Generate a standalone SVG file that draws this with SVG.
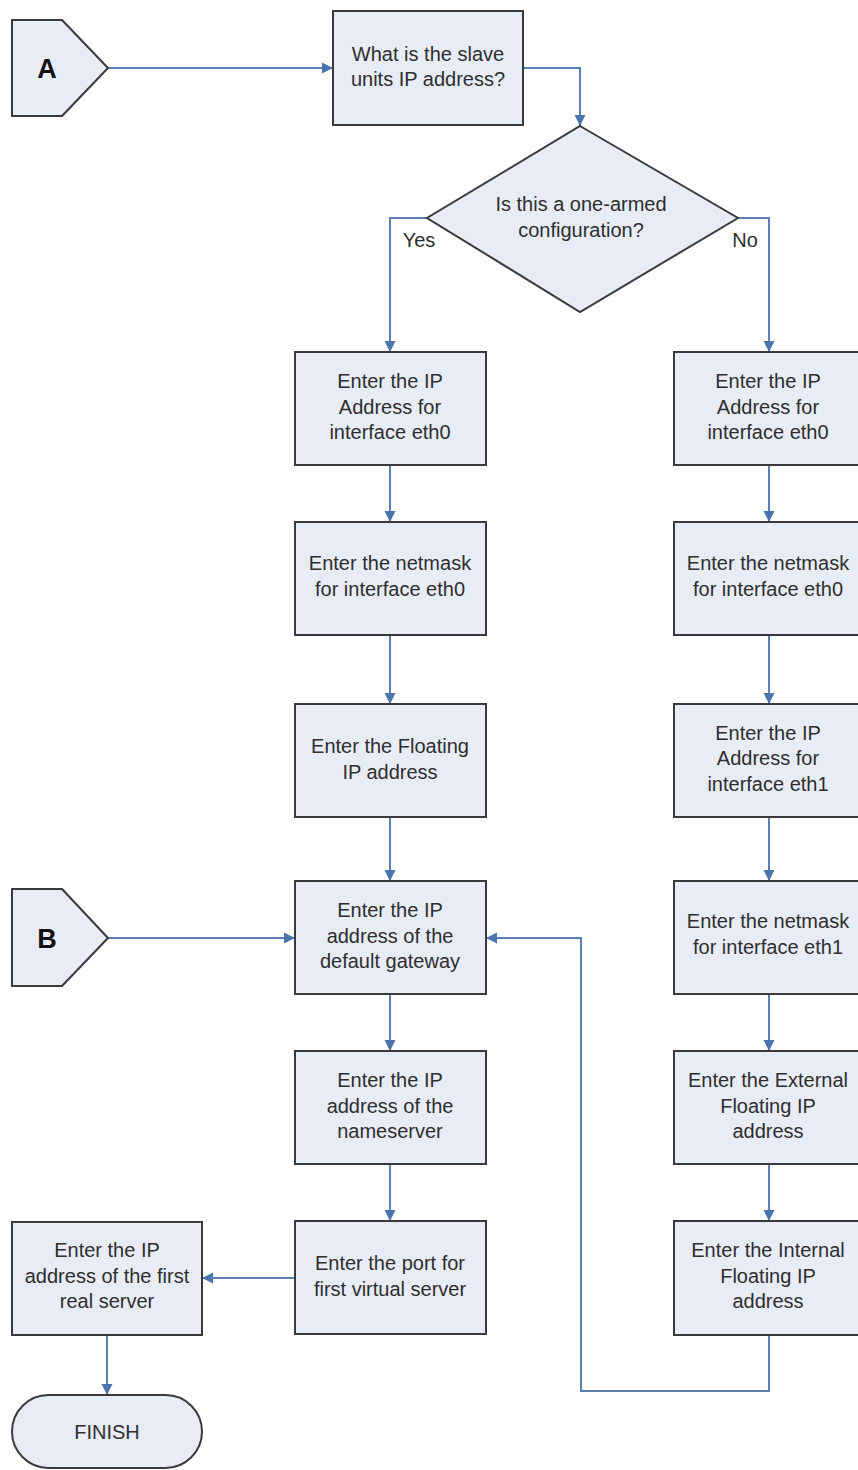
<svg xmlns="http://www.w3.org/2000/svg" width="858" height="1470" viewBox="0 0 858 1470">
<defs>
<marker id="arr" markerUnits="userSpaceOnUse" markerWidth="12" markerHeight="12" viewBox="0 0 12 12" refX="11" refY="6" orient="auto">
<path d="M0,0.5 L11,6 L0,11.5 Z" fill="#4a74ad"/>
</marker>
<style>
.box{fill:#e8ecf7;stroke:#3a3a3a;stroke-width:2}
.t{font-family:"Liberation Sans",Arial,sans-serif;font-size:20px;fill:#2e2e2e;text-anchor:middle}
.big{font-family:"Liberation Sans",Arial,sans-serif;font-size:27px;font-weight:bold;fill:#111;text-anchor:middle}
.c{fill:none;stroke:#5b80b6;stroke-width:2}
</style>
</defs>
<rect width="858" height="1470" fill="#ffffff"/>

<g id="connectors">
<path class="c" d="M108,68 H333" marker-end="url(#arr)"/>
<path class="c" d="M523,68 H580 V126" marker-end="url(#arr)"/>
<path class="c" d="M427,218 H390 V352" marker-end="url(#arr)"/>
<path class="c" d="M738,218 H769 V352" marker-end="url(#arr)"/>
<path class="c" d="M390,465 V522" marker-end="url(#arr)"/>
<path class="c" d="M390,635 V704" marker-end="url(#arr)"/>
<path class="c" d="M390,817 V881" marker-end="url(#arr)"/>
<path class="c" d="M390,994 V1051" marker-end="url(#arr)"/>
<path class="c" d="M390,1164 V1221" marker-end="url(#arr)"/>
<path class="c" d="M769,465 V522" marker-end="url(#arr)"/>
<path class="c" d="M769,635 V704" marker-end="url(#arr)"/>
<path class="c" d="M769,817 V881" marker-end="url(#arr)"/>
<path class="c" d="M769,994 V1051" marker-end="url(#arr)"/>
<path class="c" d="M769,1164 V1221" marker-end="url(#arr)"/>
<path class="c" d="M769,1335 V1391 H581 V938 H486" marker-end="url(#arr)"/>
<path class="c" d="M108,938 H295" marker-end="url(#arr)"/>
<path class="c" d="M295,1278 H202" marker-end="url(#arr)"/>
<path class="c" d="M107,1335 V1395" marker-end="url(#arr)"/>
<text class="t" x="419" y="247">Yes</text>
<text class="t" x="745" y="247">No</text>
</g>

<g id="A">
<path class="box" d="M12,20 H62 L108,68 L62,116 H12 Z" stroke-linejoin="round"/>
<text class="big" x="47" y="78">A</text>
</g>

<g id="q1">
<rect class="box" x="333" y="11" width="190" height="114"/>
<text class="t" x="428" y="61">What is the slave</text>
<text class="t" x="428" y="86">units IP address?</text>
</g>

<g id="decision">
<path class="box" d="M580,126 L738,218 L580,312 L427,218 Z"/>
<text class="t" x="581" y="211">Is this a one-armed</text>
<text class="t" x="581" y="237">configuration?</text>
</g>

<g id="L1">
<rect class="box" x="295" y="352" width="191" height="113"/>
<text class="t" x="390" y="388">Enter the IP</text>
<text class="t" x="390" y="414">Address for</text>
<text class="t" x="390" y="439">interface eth0</text>
</g>
<g id="L2">
<rect class="box" x="295" y="522" width="191" height="113"/>
<text class="t" x="390" y="570">Enter the netmask</text>
<text class="t" x="390" y="596">for interface eth0</text>
</g>
<g id="L3">
<rect class="box" x="295" y="704" width="191" height="113"/>
<text class="t" x="390" y="753">Enter the Floating</text>
<text class="t" x="390" y="779">IP address</text>
</g>
<g id="L4">
<rect class="box" x="295" y="881" width="191" height="113"/>
<text class="t" x="390" y="917">Enter the IP</text>
<text class="t" x="390" y="943">address of the</text>
<text class="t" x="390" y="968">default gateway</text>
</g>
<g id="L5">
<rect class="box" x="295" y="1051" width="191" height="113"/>
<text class="t" x="390" y="1087">Enter the IP</text>
<text class="t" x="390" y="1113">address of the</text>
<text class="t" x="390" y="1138">nameserver</text>
</g>
<g id="L6">
<rect class="box" x="295" y="1221" width="191" height="113"/>
<text class="t" x="390" y="1270">Enter the port for</text>
<text class="t" x="390" y="1296">first virtual server</text>
</g>

<g id="R1">
<rect class="box" x="674" y="352" width="190" height="113"/>
<text class="t" x="768" y="388">Enter the IP</text>
<text class="t" x="768" y="414">Address for</text>
<text class="t" x="768" y="439">interface eth0</text>
</g>
<g id="R2">
<rect class="box" x="674" y="522" width="190" height="113"/>
<text class="t" x="768" y="570">Enter the netmask</text>
<text class="t" x="768" y="596">for interface eth0</text>
</g>
<g id="R3">
<rect class="box" x="674" y="704" width="190" height="113"/>
<text class="t" x="768" y="740">Enter the IP</text>
<text class="t" x="768" y="765">Address for</text>
<text class="t" x="768" y="791">interface eth1</text>
</g>
<g id="R4">
<rect class="box" x="674" y="881" width="190" height="113"/>
<text class="t" x="768" y="928">Enter the netmask</text>
<text class="t" x="768" y="954">for interface eth1</text>
</g>
<g id="R5">
<rect class="box" x="674" y="1051" width="190" height="113"/>
<text class="t" x="768" y="1087">Enter the External</text>
<text class="t" x="768" y="1113">Floating IP</text>
<text class="t" x="768" y="1138">address</text>
</g>
<g id="R6">
<rect class="box" x="674" y="1221" width="190" height="114"/>
<text class="t" x="768" y="1257">Enter the Internal</text>
<text class="t" x="768" y="1283">Floating IP</text>
<text class="t" x="768" y="1308">address</text>
</g>

<g id="B">
<path class="box" d="M12,889 H62 L108,938 L62,986 H12 Z" stroke-linejoin="round"/>
<text class="big" x="47" y="948">B</text>
</g>

<g id="realserver">
<rect class="box" x="12" y="1222" width="190" height="113"/>
<text class="t" x="107" y="1257">Enter the IP</text>
<text class="t" x="107" y="1283">address of the first</text>
<text class="t" x="107" y="1308">real server</text>
</g>

<g id="finish">
<rect class="box" x="12" y="1395" width="190" height="73" rx="36.5" ry="36.5"/>
<text class="t" x="107" y="1439">FINISH</text>
</g>
</svg>
